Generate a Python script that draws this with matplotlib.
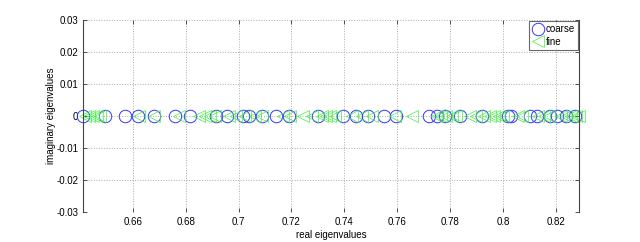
import numpy as np
import matplotlib.pyplot as plt

# real parts of the eigenvalues (imaginary parts are all zero)
coarse = [0.64129, 0.64962, 0.6572, 0.66212, 0.66818, 0.67614, 0.68182,
          0.69129, 0.69545, 0.70152, 0.70379, 0.70871, 0.71402, 0.71894,
          0.72992, 0.7394, 0.74432, 0.74886, 0.75492, 0.75947, 0.77197,
          0.775, 0.77803, 0.78371, 0.79205, 0.8019, 0.80303, 0.81023,
          0.81288, 0.8178, 0.82045, 0.82386, 0.82727]
fine = [0.64204, 0.64356, 0.64507, 0.64659, 0.64773, 0.6625, 0.66818,
        0.67765, 0.68523, 0.6875, 0.68902, 0.69091, 0.69621, 0.69886,
        0.70227, 0.70606, 0.70871, 0.71667, 0.71932, 0.72424, 0.72765,
        0.73144, 0.73295, 0.73447, 0.73636, 0.7428, 0.74659, 0.75038,
        0.75909, 0.76553, 0.775, 0.77652, 0.77841, 0.78068, 0.7822,
        0.7875, 0.78977, 0.7928, 0.79508, 0.79659, 0.79848, 0.8, 0.80568,
        0.8072, 0.81326, 0.81553, 0.81742, 0.82197, 0.82386, 0.82576,
        0.82765, 0.82879]

xticks = [0.66, 0.68, 0.70, 0.72, 0.74, 0.76, 0.78, 0.80, 0.82]
xtick_labels = ['0.66', '0.68', '0.7', '0.72', '0.74', '0.76', '0.78', '0.8', '0.82']
yticks = [-0.03, -0.02, -0.01, 0, 0.01, 0.02, 0.03]
ytick_labels = ['-0.03', '-0.02', '-0.01', '0', '0.01', '0.02', '0.03']

plt.rcParams['font.family'] = ['Liberation Sans', 'DejaVu Sans']

fig = plt.figure(figsize=(6.4, 2.42), dpi=100)
ax = fig.add_axes([0.1297, 0.124, 0.775, 0.793])

ax.plot(coarse, np.zeros(len(coarse)), 'o', color='#3535ff', mfc='none',
        markersize=9, markeredgewidth=0.7, label='coarse', clip_on=False)
ax.plot(fine, np.zeros(len(fine)), '<', color='#44ee44', mfc='none',
        markersize=9, markeredgewidth=0.5, label='fine', clip_on=False)

ax.set_xlim(0.6412, 0.8287)
ax.set_ylim(-0.03, 0.03)
ax.set_xticks(xticks)
ax.set_xticklabels(xtick_labels)
ax.set_yticks(yticks)
ax.set_yticklabels(ytick_labels)
ax.tick_params(direction='in', length=3, width=0.6, labelsize=7,
               top=True, right=True, colors='#333333', labelcolor='black')
ax.grid(True, linestyle=':', color='#aaaaaa', linewidth=0.7)

for side in ['left', 'right']:
    ax.spines[side].set_color('#444444')
    ax.spines[side].set_linewidth(0.8)
for side in ['top', 'bottom']:
    ax.spines[side].set_visible(False)

ax.set_xlabel('real eigenvalues', fontsize=7, labelpad=2)
ax.set_ylabel('imaginary eigenvalues', fontsize=7, labelpad=0)

leg = ax.legend(loc='upper right', fontsize=7, fancybox=False, borderpad=0.3,
                handlelength=1.2, handletextpad=0.2, labelspacing=0.3,
                borderaxespad=0.1)
leg.get_frame().set_edgecolor('#444444')
leg.get_frame().set_linewidth(0.8)

fig.savefig('out.png', dpi=100)
